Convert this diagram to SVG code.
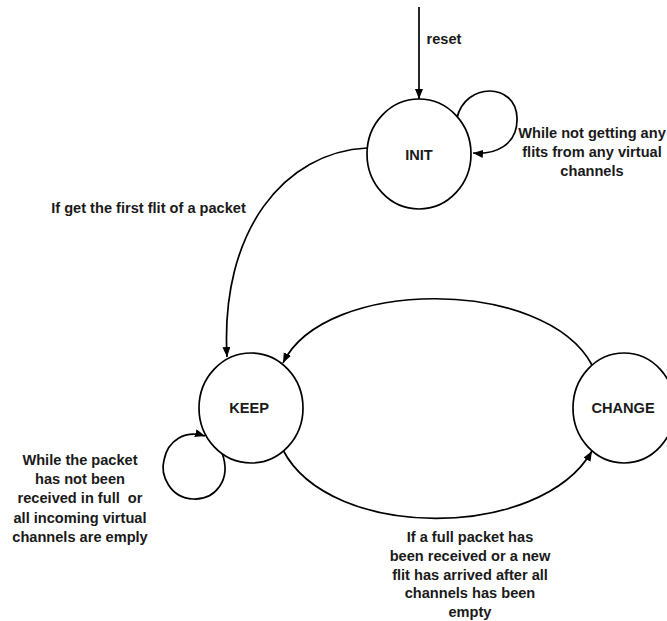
<svg xmlns="http://www.w3.org/2000/svg" width="667" height="621" viewBox="0 0 667 621">
<defs>
<marker id="arr" markerUnits="userSpaceOnUse" markerWidth="12" markerHeight="10" refX="10" refY="4" orient="auto">
<path d="M0,0 L10,4 L0,8 Z" fill="#000"/>
</marker>
<style>
.st{fill:#fff;stroke:#000;stroke-width:1.7}
.ed{fill:none;stroke:#000;stroke-width:1.7;marker-end:url(#arr)}
text{font-family:"Liberation Sans",Arial,Helvetica,sans-serif;font-weight:bold;font-size:14.6px;fill:#1a1a1a;text-anchor:middle}
</style>
</defs>
<rect width="667" height="621" fill="#fff"/>
<g id="connectors">
<path class="ed" d="M419,7 L419,99"/>
<path class="ed" d="M457,118 C465,82 516,82 517,118 C518,145 495,155 473,153"/>
<path class="ed" d="M367,148 C285,152 220,230 227,357"/>
<path class="ed" d="M592,365 C545,277 325,277 283,363"/>
<path class="ed" d="M283,450 C330,541 540,541 592,451"/>
<path class="ed" d="M222,453 C232,480 215,500 193,499 C170,498 160,475 164,460 C168,440 185,430 205,436"/>
</g>
<g id="labels">
<text x="444" y="44">reset</text>
<text x="592" y="138">While not getting any</text>
<text x="592" y="157">flits from any virtual</text>
<text x="592" y="176">channels</text>
<text x="148.5" y="213">If get the first flit of a packet</text>
<text x="80" y="465">While the packet</text>
<text x="80" y="484">has not been</text>
<text x="80" y="503" xml:space="preserve">received in full  or</text>
<text x="80" y="523">all incoming virtual</text>
<text x="80" y="542">channels are emply</text>
<text x="470" y="542">If a full packet has</text>
<text x="470" y="561">been received or a new</text>
<text x="470" y="580">flit has arrived after all</text>
<text x="470" y="598">channels has been</text>
<text x="470" y="617">empty</text>
</g>
<g id="INIT">
<ellipse class="st" cx="419" cy="154" rx="52" ry="55"/>
<text x="419" y="160">INIT</text>
</g>
<g id="KEEP">
<ellipse class="st" cx="251" cy="408" rx="52" ry="55"/>
<text x="249" y="413">KEEP</text>
</g>
<g id="CHANGE">
<ellipse class="st" cx="624" cy="408" rx="51" ry="55"/>
<text x="623" y="413">CHANGE</text>
</g>
</svg>
